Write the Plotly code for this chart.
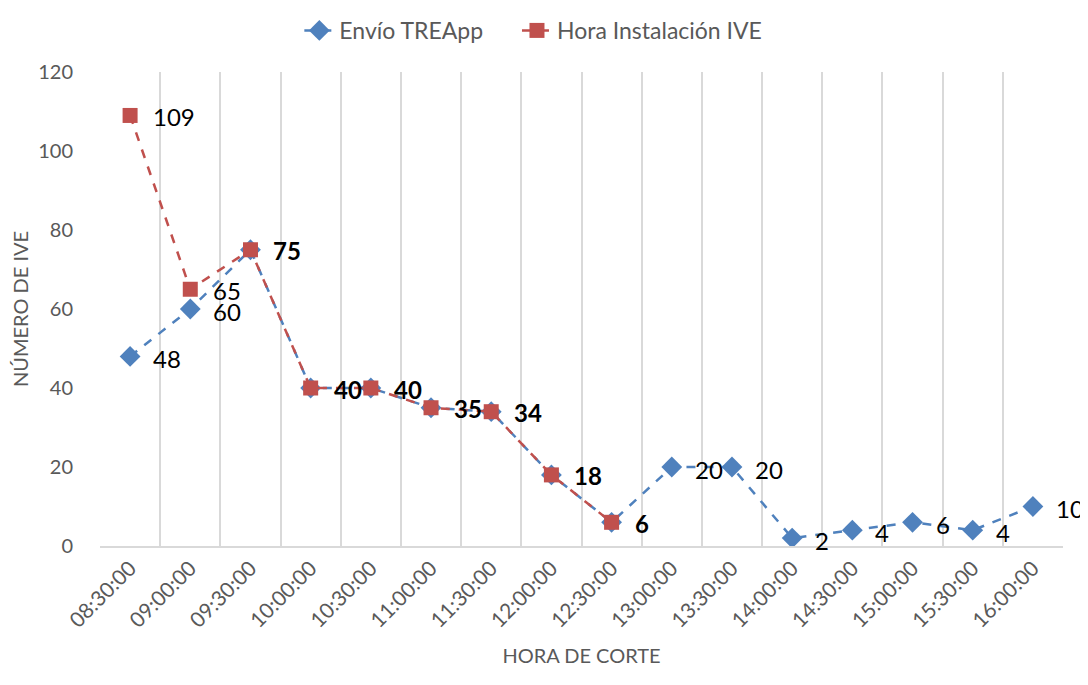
import plotly.graph_objects as go

categories = ["08:30:00", "09:00:00", "09:30:00", "10:00:00", "10:30:00", "11:00:00",
              "11:30:00", "12:00:00", "12:30:00", "13:00:00", "13:30:00", "14:00:00",
              "14:30:00", "15:00:00", "15:30:00", "16:00:00"]
envio_treapp = [48, 60, 75, 40, 40, 35, 34, 18, 6, 20, 20, 2, 4, 6, 4, 10]
hora_instalacion = [109, 65, 75, 40, 40, 35, 34, 18, 6]

BLUE = "#4F81BD"
RED = "#C0504D"
FONT = "Lato"

fig = go.Figure()
fig.add_trace(go.Scatter(
    x=categories, y=envio_treapp, name="Envío TREApp",
    mode="lines+markers", legend="legend",
    line=dict(color=BLUE, width=2.5, dash="dash"),
    marker=dict(symbol="diamond", size=16, color=BLUE),
))
fig.add_trace(go.Scatter(
    x=categories[:len(hora_instalacion)], y=hora_instalacion, name="Hora Instalación IVE",
    mode="lines+markers", legend="legend2",
    line=dict(color=RED, width=2.5, dash="dash"),
    marker=dict(symbol="square", size=15, color=RED),
))

annotations = []
for i, (cat, v) in enumerate(zip(categories, envio_treapp)):
    shared = i < len(hora_instalacion) and hora_instalacion[i] == v
    if not shared:
        annotations.append(dict(x=cat, y=v, text=str(v), showarrow=False,
                                xanchor="left", yanchor="middle", xshift=21, yshift=-2,
                                font=dict(family=FONT, size=24, color="#000000")))
for i, v in enumerate(hora_instalacion):
    shared = envio_treapp[i] == v
    txt = f"<b>{v}</b>" if shared else str(v)
    annotations.append(dict(x=categories[i], y=v, text=txt, showarrow=False,
                            xanchor="left", yanchor="middle", xshift=21, yshift=-1,
                            font=dict(family=FONT, size=24, color="#000000")))

legend_common = dict(orientation="h", xanchor="left", y=1.133, yanchor="top",
                     font=dict(family=FONT, size=23, color="#595959"),
                     bgcolor="rgba(0,0,0,0)")

fig.update_layout(
    width=1080, height=677,
    paper_bgcolor="white", plot_bgcolor="white",
    margin=dict(l=92, r=25, t=64, b=139, autoexpand=False),
    font=dict(family=FONT, color="#595959"),
    annotations=annotations,
    showlegend=True,
    legend=dict(x=0.207, **legend_common),
    legend2=dict(x=0.433, **legend_common),
    xaxis=dict(
        type="category", range=[-0.5, 15.5], tickson="boundaries", automargin=False,
        showgrid=True, gridcolor="#D9D9D9", gridwidth=1.5,
        showline=True, linecolor="#D9D9D9", linewidth=1.5,
        ticks="outside", ticklen=14, tickcolor="rgba(0,0,0,0)",
        tickangle=-45, tickfont=dict(family=FONT, size=21, color="#595959"),
        title=dict(text="HORA DE CORTE", font=dict(family=FONT, size=20, color="#595959"), standoff=18),
    ),
    yaxis=dict(
        range=[0, 120], dtick=20, showgrid=False, zeroline=False, showline=False,
        automargin=False,
        ticks="outside", ticklen=22, tickcolor="rgba(0,0,0,0)",
        tickfont=dict(family=FONT, size=20, color="#595959"),
        title=dict(text="NÚMERO DE IVE", font=dict(family=FONT, size=20, color="#595959"), standoff=10),
    ),
)

fig.write_html("out.html")
